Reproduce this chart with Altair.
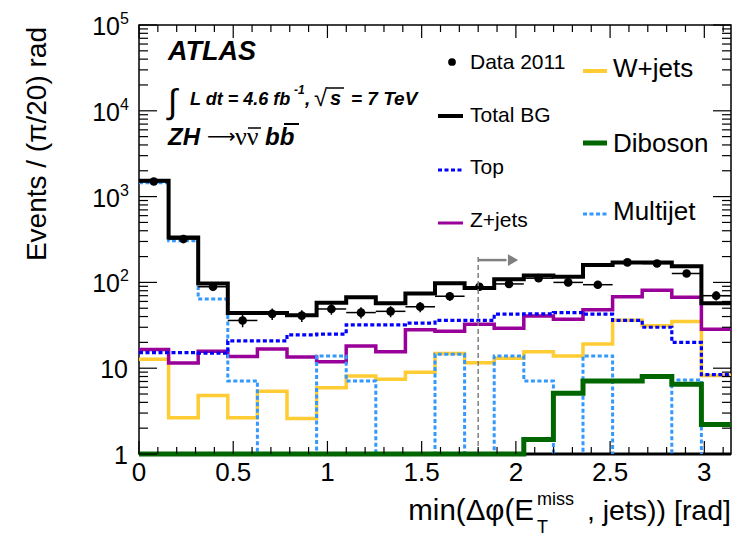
import math
import altair as alt
import pandas as pd

# ---------------- data ----------------
n_bins = 20
bin_w = math.pi / n_bins
edges = [i * bin_w for i in range(n_bins + 1)]

data_2011 = [1500, 320, 89, 36, 43, 41, 49, 44.5, 46, 52,
             69, 89, 96, 112, 100, 94, 171, 166, 127, 70]
total_bg = [1535, 334, 97, 44, 44, 41.5, 58, 67, 57, 74,
            98, 86, 109, 120, 116, 159, 171, 171, 154, 57]
top = [15.2, 15.2, 15, 20.8, 20.8, 24.5, 25, 32, 32, 33.5,
       36, 36, 42.7, 43, 44.5, 42.7, 36, 30, 20, 8.4]
zjets = [16.5, 11.5, 15.8, 13.7, 16.7, 13.5, 11.9, 18.2, 15.6, 28,
         27, 32.6, 29.3, 40.7, 37.3, 47.9, 68, 81, 67, 28.5]
wjets = [12.7, 2.65, 4.8, 2.65, 5.4, 2.6, 5.9, 8.1, 7.45, 9.0,
         14.8, 11.6, 13.1, 15.6, 13.9, 19.1, 36.3, 31.2, 35, 8.2]
diboson = [1, 1, 1, 1, 1, 1, 1, 1, 1, 1,
           1, 1, 1, 1.48, 5.1, 7.1, 7.1, 8.0, 6.5, 2.2]
multijet = [1450, 305, 64, 7.1, 0, 0, 13.9, 7.1, 0, 0,
            14.5, 0, 13.9, 7.1, 0, 13.9, 0, 0, 7.3, 0]

x_tick_values = [0, 0.5, 1, 1.5, 2, 2.5, 3]
x_tick_labels = ["0", "0.5", "1", "1.5", "2", "2.5", "3"]
x_minor_values = [k / 10 for k in range(1, 32) if k % 5 != 0]
y_major_values = [1, 10, 100, 1000, 10000, 100000]
y_minor_values = [m * 10 ** e for e in range(5) for m in range(2, 10)]
y_plain_labels = ["1", "10"]
y_exp_bases = ["10", "10", "10", "10"]
y_exp_powers = ["2", "3", "4", "5"]

cut_value = 1.8
cut_top = 200
arrow_level = 182
arrow_end = 1.95
arrow_head = 1.985

legend_col1 = ["Data 2011", "Total BG", "Top", "Z+jets"]
legend_col2 = ["W+jets", "Diboson", "Multijet"]

# ---------------- styling ----------------
W, H = 592, 429
FONT = "Liberation Sans"
xs = alt.Scale(domain=[0, math.pi], nice=False, zero=False)
ys = alt.Scale(type="log", domain=[1, 100000], nice=False)

C_TOP = "#0000ff"
C_Z = "#990099"
C_W = "#ffcc33"
C_DB = "#006600"
C_MJ = "#3399ff"
C_CUT = "#808080"


def step_layer(vals, color, width, dash=None, clip=True):
    df = pd.DataFrame({"x": edges, "v": list(vals) + [vals[-1]]})
    kw = dict(color=color, strokeWidth=width, interpolate="step-after",
              clip=clip, strokeCap="butt", strokeJoin="miter")
    if dash:
        kw["strokeDash"] = dash
    return (alt.Chart(df)
            .transform_calculate(vv="max(datum.v, 0.1)")
            .mark_line(**kw)
            .encode(x=alt.X("x:Q", scale=xs, axis=None),
                    y=alt.Y("vv:Q", scale=ys, axis=None)))


layers = []

# bottom thick frame line
layers.append(alt.Chart(pd.DataFrame({"x": [0], "x2": [math.pi], "y": [1]}))
              .mark_rule(color="black", strokeWidth=3, clip=False)
              .encode(x=alt.X("x:Q", scale=xs, axis=None), x2="x2:Q",
                      y=alt.Y("y:Q", scale=ys, axis=None)))

layers.append(step_layer(wjets, C_W, 3.5))
layers.append(step_layer(zjets, C_Z, 3.5))
layers.append(step_layer(multijet, C_MJ, 3, dash=[4, 2.5]))
layers.append(step_layer(top, C_TOP, 3.2, dash=[4, 2.5]))
layers.append(step_layer(diboson, C_DB, 5, clip=False))
layers.append(step_layer(total_bg, "black", 4))

# data points with error bars
centers = [(edges[i] + edges[i + 1]) / 2 for i in range(n_bins)]
ddf = pd.DataFrame({"c": centers, "lo": edges[:-1], "hi": edges[1:], "n": data_2011})
ddf["elo"] = [v - math.sqrt(v) for v in data_2011]
ddf["ehi"] = [v + math.sqrt(v) for v in data_2011]
dbase = alt.Chart(ddf)
layers.append(dbase.mark_rule(color="black", strokeWidth=1.5).encode(
    x=alt.X("lo:Q", scale=xs, axis=None), x2="hi:Q",
    y=alt.Y("n:Q", scale=ys, axis=None)))
layers.append(dbase.mark_rule(color="black", strokeWidth=1.5).encode(
    x=alt.X("c:Q", scale=xs, axis=None),
    y=alt.Y("elo:Q", scale=ys, axis=None), y2="ehi:Q"))
layers.append(dbase.mark_circle(color="black", opacity=1, size=75).encode(
    x=alt.X("c:Q", scale=xs, axis=None),
    y=alt.Y("n:Q", scale=ys, axis=None)))

# cut line and arrow
cdf = pd.DataFrame({"x": [cut_value], "xe": [arrow_end], "xh": [arrow_head],
                    "y0": [1], "y1": [cut_top], "ya": [arrow_level]})
cbase = alt.Chart(cdf)
layers.append(cbase.mark_rule(color=C_CUT, strokeWidth=1.5, strokeDash=[5, 3]).encode(
    x=alt.X("x:Q", scale=xs, axis=None),
    y=alt.Y("y0:Q", scale=ys, axis=None), y2="y1:Q"))
layers.append(cbase.mark_rule(color=C_CUT, strokeWidth=2.5).encode(
    x=alt.X("x:Q", scale=xs, axis=None), x2="xe:Q",
    y=alt.Y("ya:Q", scale=ys, axis=None)))
layers.append(cbase.mark_point(shape="triangle-right", filled=True, color=C_CUT,
                               opacity=1, size=140).encode(
    x=alt.X("xh:Q", scale=xs, axis=None),
    y=alt.Y("ya:Q", scale=ys, axis=None)))


# ticks (inside, ROOT style, on all four sides)
def xticks(vals, length, top_side):
    df = pd.DataFrame({"x": vals})
    if top_side:
        yy, yy2 = alt.value(0), alt.value(length)
    else:
        yy, yy2 = alt.value(H), alt.value(H - length)
    return alt.Chart(df).mark_rule(color="black", strokeWidth=1.2).encode(
        x=alt.X("x:Q", scale=xs, axis=None), y=yy, y2=yy2)


def yticks(vals, length, right_side):
    df = pd.DataFrame({"y": vals})
    if right_side:
        xx, xx2 = alt.value(W), alt.value(W - length)
    else:
        xx, xx2 = alt.value(0), alt.value(length)
    return alt.Chart(df).mark_rule(color="black", strokeWidth=1.2).encode(
        y=alt.Y("y:Q", scale=ys, axis=None), x=xx, x2=xx2)


layers += [xticks(x_tick_values, 13, False), xticks(x_minor_values, 7, False),
           xticks(x_tick_values, 13, True), xticks(x_minor_values, 7, True),
           yticks(y_major_values, 18, False), yticks(y_minor_values, 9, False),
           yticks(y_major_values, 18, True), yticks(y_minor_values, 9, True)]

# tick labels
layers.append(alt.Chart(pd.DataFrame({"x": x_tick_values, "t": x_tick_labels}))
              .mark_text(font=FONT, fontSize=26, baseline="top", align="center")
              .encode(x=alt.X("x:Q", scale=xs, axis=None), y=alt.value(H + 6), text="t:N"))
layers.append(alt.Chart(pd.DataFrame({"v": y_major_values[:2], "t": y_plain_labels}))
              .mark_text(font=FONT, fontSize=25, baseline="middle", align="right", dy=2)
              .encode(y=alt.Y("v:Q", scale=ys, axis=None), x=alt.value(-11), text="t:N"))
edf = pd.DataFrame({"v": y_major_values[2:], "b": y_exp_bases, "e": y_exp_powers})
layers.append(alt.Chart(edf)
              .mark_text(font=FONT, fontSize=25, baseline="middle", align="right", dy=2)
              .encode(y=alt.Y("v:Q", scale=ys, axis=None), x=alt.value(-19), text="b:N"))
layers.append(alt.Chart(edf)
              .mark_text(font=FONT, fontSize=16, baseline="middle", align="left", dy=-6)
              .encode(y=alt.Y("v:Q", scale=ys, axis=None), x=alt.value(-19), text="e:N"))


# free text helper
def txt(s, x, y, size, align="left", baseline="alphabetic", style="normal",
        weight="normal", angle=0, color="black", font=FONT):
    kw = dict(font=font, fontSize=size, align=align, baseline=baseline,
              fontStyle=style, fontWeight=weight, color=color)
    if angle:
        kw["angle"] = angle
    return (alt.Chart(pd.DataFrame({"t": [s]}))
            .mark_text(**kw)
            .encode(x=alt.value(x), y=alt.value(y), text="t:N"))


one = alt.Chart(pd.DataFrame({"k": [0]}))


def bar(x1, x2, y, width=1.5, color="black"):
    return one.mark_rule(color=color, strokeWidth=width).encode(
        x=alt.value(x1), x2=alt.value(x2), y=alt.value(y))


BI = dict(style="italic", weight="bold")

# axis titles
layers.append(txt("min(Δφ(E", 395, H + 66, 29.5, align="right"))
layers.append(txt("miss", 398, H + 51, 18))
layers.append(txt("T", 398, H + 79, 18))
layers.append(txt(", jets)) [rad]", W, H + 66, 28.5, align="right"))
layers.append(txt("Events / (π/20) rad", -93, 2, 28, align="right", angle=270))

# ATLAS labels
layers.append(txt("ATLAS", 29, 35, 27, **BI))
layers.append(txt("∫", 29, 88, 34))
layers.append(txt("L dt = 4.6 fb", 51, 80, 18, **BI))
layers.append(txt("-1", 155, 69, 12, **BI))
layers.append(txt(",", 166, 80, 19, **BI))
layers.append(txt("√", 175, 81, 24))
layers.append(txt("s", 191, 80, 20, **BI))
layers.append(bar(188, 205, 63, 1.5))
layers.append(txt("= 7 TeV", 212, 80, 19, **BI))
layers.append(txt("ZH", 29, 120, 24, **BI))
layers.append(txt("⟶", 68, 118, 20, font="DejaVu Sans"))
layers.append(txt("νν", 96, 120, 26, font="Liberation Serif"))
layers.append(bar(109, 122, 103, 1.5))
layers.append(txt("bb", 126, 120, 24, **BI))
layers.append(bar(145, 160, 99, 2))

# legend
layers.append(one.mark_circle(color="black", opacity=1, size=60).encode(
    x=alt.value(313), y=alt.value(37)))


def leg_line(x1, x2, y, color, width, dash=None):
    kw = dict(color=color, strokeWidth=width, strokeCap="butt")
    if dash:
        kw["strokeDash"] = dash
    return one.mark_rule(**kw).encode(x=alt.value(x1), x2=alt.value(x2), y=alt.value(y))


layers.append(leg_line(299, 324, 91, "black", 4))
layers.append(leg_line(299, 324, 145, C_TOP, 3, [4, 2.5]))
layers.append(leg_line(299, 324, 198, C_Z, 3))
layers.append(leg_line(444, 468, 46, C_W, 4))
layers.append(leg_line(444, 468, 118, C_DB, 5))
layers.append(leg_line(444, 468, 189, C_MJ, 3, [4, 2.5]))

for name, yy in zip(legend_col1, [38, 91, 143, 196]):
    layers.append(txt(name, 331, yy, 21, baseline="middle"))
for name, yy in zip(legend_col2, [44, 119, 187]):
    layers.append(txt(name, 474, yy, 26, baseline="middle"))

chart = (alt.layer(*layers)
         .properties(width=W, height=H,
                     padding={"left": 139, "top": 25, "right": 2, "bottom": 82},
                     autosize=alt.AutoSizeParams(type="none"))
         .configure_view(stroke="black", strokeWidth=1.5))

chart.save("out.html", embed_options={"renderer": "svg", "actions": False})
